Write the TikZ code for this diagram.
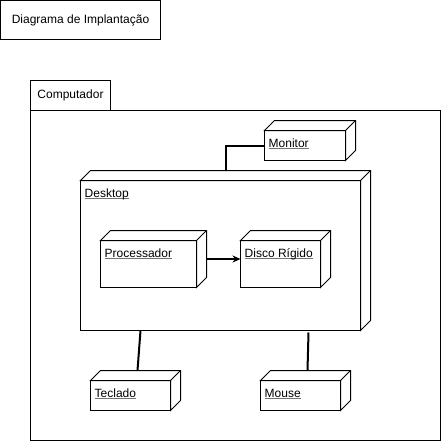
\documentclass[tikz,border=0pt]{standalone}
\usepackage{fontspec}
\setmainfont{Liberation Sans}
\usetikzlibrary{arrows.meta,calc}
\newcommand{\myul}[1]{\setbox0\hbox{#1}\rlap{\color{black!55}\rule[-2.3pt]{\wd0}{0.9pt}}\box0}
\newcommand{\depnode}[6]{%
  \node[frontbox, minimum width=#4pt, minimum height=#5pt] (#1) at (#2,#3+10) {};
  \path[boxline, fill=white] (#1.north west) -- ++(10,-10) -- ++(#4,0) -- ++(0,#5) -- (#1.south east) -- (#1.north east) -- cycle;
  \draw[boxline] (#1.north east) -- ++(10,-10);
  \node[lbl] at ([xshift=4pt,yshift=-16.5pt]#1.north west) {\myul{#6}};
}
\begin{document}
\begin{tikzpicture}[x=1pt,y=-1pt, line join=miter,
  boxline/.style={draw=black,line width=1pt},
  frontbox/.style={boxline,fill=white,rectangle,inner sep=0pt,outer sep=0pt,anchor=north west},
  lbl/.style={font=\fontsize{12}{14}\selectfont, inner sep=0pt, anchor=base west},
  conn/.style={draw=black,line width=2pt},
  plain/.style={boxline,rectangle,inner sep=0pt,outer sep=0pt,anchor=north west,font=\fontsize{12}{14}\selectfont}]
\useasboundingbox (0,0) rectangle (441,441);
\node[plain, minimum width=160pt, minimum height=39pt] (title) at (0.5,0.5) {Diagrama de Implantação};
\node[plain, minimum width=410pt, minimum height=330pt] (frame) at (30.5,110.5) {};
\node[plain, minimum width=80pt, minimum height=30pt] (tab) at (30.5,80.5) {Computador};
\depnode{desk}{80.5}{170.5}{280}{150}{Desktop}
\depnode{mon}{264.5}{120.5}{81}{30}{Monitor}
\depnode{proc}{100.5}{230.5}{96}{47}{Processador}
\depnode{disco}{240.5}{230.5}{80}{47}{Disco Rígido}
\depnode{tec}{90.5}{370.5}{80}{30}{Teclado}
\depnode{mouse}{260.5}{370.5}{80}{30}{Mouse}
\coordinate (dtop) at ([xshift=5pt,yshift=10pt]desk.north);
\draw[conn] (mon.west) -| (dtop);
\draw[conn, -{Stealth[length=8pt,width=7pt]}] ([xshift=10pt,yshift=5pt]proc.east) -- ([yshift=5pt]disco.west);
\draw[conn] ([xshift=-80pt]desk.south) -- ([xshift=7pt,yshift=10pt]tec.north);
\draw[conn] ([xshift=88pt,yshift=-2pt]desk.south) -- ([xshift=7pt,yshift=10pt]mouse.north);
\end{tikzpicture}
\end{document}
